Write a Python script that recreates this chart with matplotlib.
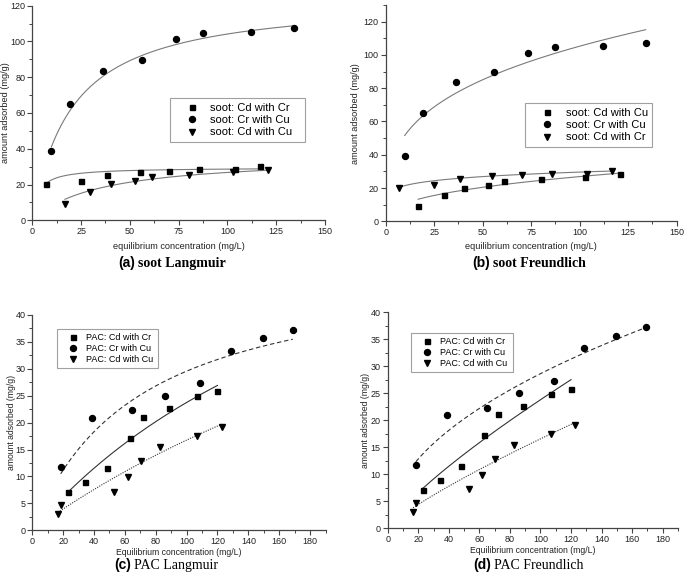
import matplotlib
matplotlib.use("Agg")
import matplotlib.pyplot as plt
import numpy as np
from matplotlib.ticker import MultipleLocator

# ---- soot data (top row) ----
soot_cd_cr_x = [7.0, 25.0, 38.5, 55.0, 70.0, 85.5, 104.0, 116.5]
soot_cd_cr_y = [20.3, 21.8, 25.5, 27.0, 27.7, 28.5, 28.7, 30.1]
soot_cr_cu_x = [9.8, 19.2, 36.0, 56.0, 73.6, 87.3, 112.0, 134.0]
soot_cr_cu_y = [39.0, 64.8, 83.5, 89.7, 101.1, 104.8, 105.5, 107.4]
soot_cd_cu_x = [16.7, 29.8, 40.2, 52.6, 61.2, 80.2, 102.7, 120.8]
soot_cd_cu_y = [8.9, 16.1, 20.2, 21.8, 24.0, 25.6, 26.9, 28.4]

# ---- PAC data (bottom row) ----
pac_cd_cr_x = [23.0, 34.0, 48.3, 63.3, 72.0, 88.3, 107.0, 120.0]
pac_cd_cr_y = [7.1, 9.0, 11.5, 17.2, 21.1, 22.7, 24.9, 25.8]
pac_cr_cu_x = [18.4, 38.9, 64.7, 85.7, 108.8, 128.8, 149.5, 168.8]
pac_cr_cu_y = [11.8, 20.9, 22.3, 25.0, 27.3, 33.3, 35.7, 37.2]
pac_cd_cu_x = [16.6, 18.6, 53.1, 61.8, 70.3, 82.9, 107.0, 122.8]
pac_cd_cu_y = [3.0, 4.7, 7.2, 9.9, 12.9, 15.5, 17.5, 19.1]

# fit parameters
# Langmuir: q = qm*K*C/(1+K*C)   Freundlich: q = Kf*C**m
soot_lang_qm = [29.5, 125.0, 36.0]    # Cd w/ Cr, Cr w/ Cu, Cd w/ Cu
soot_lang_k = [0.33, 0.05, 0.029]
soot_fr_kf = [15.6, 25.6, 4.36]
soot_fr_m = [0.139, 0.307, 0.395]
pac_lang_qm = [80.7, 50.1, 86.6]
pac_lang_k = [0.00417, 0.0144, 0.0024]
pac_fr_kf = [0.612, 2.89, 0.376]
pac_fr_m = [0.795, 0.498, 0.822]

SANS = ["Liberation Sans", "DejaVu Sans"]
SERIF = ["Liberation Serif", "DejaVu Serif"]
plt.rcParams["font.family"] = SANS

AX_COL = "#444444"


def langmuir(c, qm, k):
    return qm * k * c / (1 + k * c)


def freundlich(c, kf, m):
    return kf * c ** m


def style_axes(ax, xlim, ylim, xmaj, ymaj, fs):
    ax.set_xlim(*xlim)
    ax.set_ylim(*ylim)
    ax.xaxis.set_major_locator(MultipleLocator(xmaj))
    ax.xaxis.set_minor_locator(MultipleLocator(xmaj / 2))
    ax.yaxis.set_major_locator(MultipleLocator(ymaj))
    ax.yaxis.set_minor_locator(MultipleLocator(ymaj / 2))
    for s in ["top", "right"]:
        ax.spines[s].set_visible(False)
    for s in ["left", "bottom"]:
        ax.spines[s].set_color(AX_COL)
        ax.spines[s].set_linewidth(0.9)
    ax.tick_params(which="major", direction="out", length=3.5, width=0.8,
                   color=AX_COL, labelsize=fs, labelcolor="#222222", pad=1.5)
    ax.tick_params(which="minor", direction="out", length=2, width=0.7,
                   color=AX_COL)


def draw_series(ax, series, curves, line_styles, line_color):
    for (x, y, mk, ms, lab), (cx, cy), ls in zip(series, curves, line_styles):
        ax.plot(cx, cy, color=line_color, lw=0.8, ls=ls, zorder=2)
        ax.plot(x, y, ls="none", marker=mk, ms=ms, color="black",
                label=lab, zorder=3, clip_on=False)


fig = plt.figure(figsize=(6.85, 5.77), dpi=100)
W, H = 685.0, 577.0


def add_ax(left, right, bottom, top):
    return fig.add_axes([left / W, 1 - bottom / H, (right - left) / W,
                         (bottom - top) / H])


ax_a = add_ax(32.3, 325.0, 220.3, 5.7)
ax_b = add_ax(385.7, 676.7, 221.3, 5.0)
ax_c = add_ax(32.3, 325.5, 530.3, 315.0)
ax_d = add_ax(387.7, 678.0, 528.3, 312.3)


def span(x):
    return np.linspace(min(x), max(x), 200)


# (a) soot Langmuir
xs = [soot_cd_cr_x, soot_cr_cu_x, soot_cd_cu_x]
curves = []
for x, qm, k in zip(xs, soot_lang_qm, soot_lang_k):
    c = span(x)
    curves.append((c, langmuir(c, qm, k)))
series = [
    (soot_cd_cr_x, soot_cd_cr_y, "s", 3.6, "soot: Cd with Cr"),
    (soot_cr_cu_x, soot_cr_cu_y, "o", 4.3, "soot: Cr with Cu"),
    (soot_cd_cu_x, soot_cd_cu_y, "v", 4.5, "soot: Cd with Cu"),
]
draw_series(ax_a, series, curves, ["-", "-", "-"], "#7a7a7a")
style_axes(ax_a, (0, 150), (0, 120), 25, 20, 6.5)

# (b) soot Freundlich (labels swapped for the two Cd series)
curves = []
for x, kf, m in zip(xs, soot_fr_kf, soot_fr_m):
    c = span(x)
    curves.append((c, freundlich(c, kf, m)))
series = [
    (soot_cd_cu_x, soot_cd_cu_y, "s", 3.6, "soot: Cd with Cu"),
    (soot_cr_cu_x, soot_cr_cu_y, "o", 4.3, "soot: Cr with Cu"),
    (soot_cd_cr_x, soot_cd_cr_y, "v", 4.5, "soot: Cd with Cr"),
]
curves = [curves[2], curves[1], curves[0]]
draw_series(ax_b, series, curves, ["-", "-", "-"], "#7a7a7a")
style_axes(ax_b, (0, 150), (0, 130), 25, 20, 6.5)

# (c) PAC Langmuir, (d) PAC Freundlich
xs = [pac_cd_cr_x, pac_cr_cu_x, pac_cd_cu_x]
series = [
    (pac_cd_cr_x, pac_cd_cr_y, "s", 3.6, "PAC: Cd with Cr"),
    (pac_cr_cu_x, pac_cr_cu_y, "o", 4.3, "PAC: Cr with Cu"),
    (pac_cd_cu_x, pac_cd_cu_y, "v", 4.5, "PAC: Cd with Cu"),
]
pac_styles = ["-", (0, (4, 2.5)), (0, (1, 1.2))]
curves = []
for x, qm, k in zip(xs, pac_lang_qm, pac_lang_k):
    c = span(x)
    curves.append((c, langmuir(c, qm, k)))
draw_series(ax_c, series, curves, pac_styles, "#333333")
style_axes(ax_c, (0, 190), (0, 40), 20, 5, 6.5)

curves = []
for x, kf, m in zip(xs, pac_fr_kf, pac_fr_m):
    c = span(x)
    curves.append((c, freundlich(c, kf, m)))
draw_series(ax_d, series, curves, pac_styles, "#333333")
style_axes(ax_d, (0, 190), (0, 40), 20, 5, 6.5)

# axis labels
for ax, xl, fs, ylx, xly in [
    (ax_a, "equilibrium concentration (mg/L)", 6.6, -27, -26),
    (ax_b, "equilibrium concentration (mg/L)", 6.6, -30, -25),
    (ax_c, "Equilibrium concentration (mg/L)", 6.2, -21, -22),
    (ax_d, "Equilibrium concentration (mg/L)", 6.2, -22, -22),
]:
    ax.set_xlabel(xl, fontsize=fs, color="#222222")
    ax.set_ylabel("amount adsorbed (mg/g)", fontsize=fs, color="#222222")
    bb = ax.get_position()
    ax.yaxis.set_label_coords(ylx / (bb.width * W), 0.5)
    ax.xaxis.set_label_coords(0.5, xly / (bb.height * H))
    ax.xaxis.label.set_va("center")
    ax.yaxis.label.set_va("center")

# legends (x0, top, width) in axes fraction
for ax, (lx, ly, lw), fs, hl in [
    (ax_a, (0.47, 0.57, 0.462), 8.0, 3.0),
    (ax_b, (0.479, 0.547, 0.436), 8.0, 3.0),
    (ax_c, (0.084, 0.935, 0.344), 6.5, 2.6),
    (ax_d, (0.080, 0.904, 0.351), 6.5, 2.6),
]:
    leg = ax.legend(loc="upper left", bbox_to_anchor=(lx, 0, lw, ly),
                    mode="expand", fontsize=fs, frameon=True, fancybox=False,
                    borderpad=0.45, labelspacing=0.2, handlelength=hl,
                    handletextpad=0.2, borderaxespad=0)
    leg.get_frame().set_edgecolor("#888888")
    leg.get_frame().set_linewidth(0.8)

# panel captions
for tag, rest, x0, y0, wt in [
    ("(a)", "soot Langmuir", 118, 267, "bold"),
    ("(b)", "soot Freundlich", 472, 267, "bold"),
    ("(c)", "PAC Langmuir", 114, 569, "normal"),
    ("(d)", "PAC Freundlich", 473, 569, "normal"),
]:
    t1 = fig.text(x0 / W, 1 - y0 / H, tag, fontsize=10, fontweight="bold",
                  family=SANS, ha="left", va="baseline")
    fig.canvas.draw()
    ext = t1.get_window_extent()
    fig.text((ext.x1 + 3) / W, 1 - y0 / H, rest, fontsize=10, fontweight=wt,
             family=SERIF, ha="left", va="baseline")

fig.savefig("out.png", dpi=100)
